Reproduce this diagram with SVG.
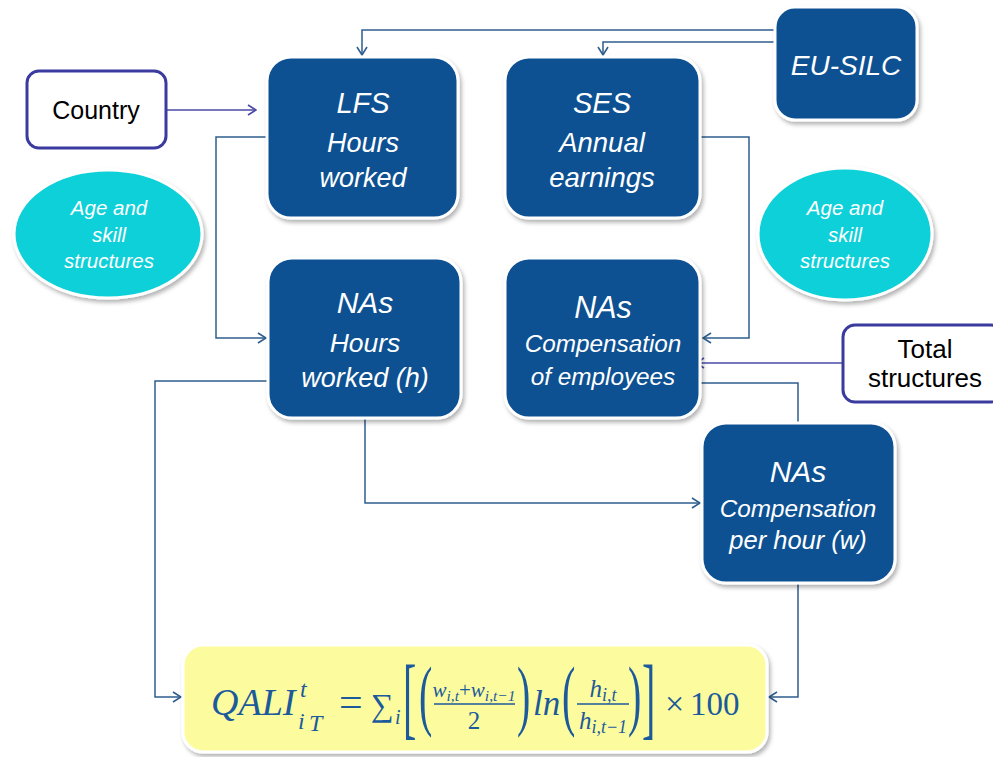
<svg xmlns="http://www.w3.org/2000/svg" width="993" height="757" viewBox="0 0 993 757">
<defs>
<filter id="sh" x="-10%" y="-10%" width="125%" height="130%">
<feDropShadow dx="2" dy="3" stdDeviation="2" flood-color="#000" flood-opacity="0.3"/>
</filter>
<marker id="ab" viewBox="0 0 10 12" refX="9" refY="6" markerWidth="10" markerHeight="12" markerUnits="userSpaceOnUse" orient="auto">
<path d="M1,1 L9,6 L1,11" fill="none" stroke="#2f5d8e" stroke-width="1.6"/>
</marker>
<marker id="ap" viewBox="0 0 10 12" refX="9" refY="6" markerWidth="10" markerHeight="12" markerUnits="userSpaceOnUse" orient="auto">
<path d="M1,1 L9,6 L1,11" fill="none" stroke="#4a4aa8" stroke-width="1.6"/>
</marker>
</defs>
<style>
.blue{fill:#0f5192;stroke:#fff;stroke-width:3;filter:url(#sh)}
.cyan{fill:#0fd0d8;stroke:#fff;stroke-width:3;filter:url(#sh)}
.wbox{fill:#fff;stroke:#3b3b9f;stroke-width:3}
.nt{fill:#fff;font-family:'Liberation Sans',Arial,sans-serif;font-style:italic;text-anchor:middle}
.bt{fill:#000;font-family:'Liberation Sans',Arial,sans-serif;text-anchor:middle}
.cb{fill:none;stroke:#2f5d8e;stroke-width:1.5}
.cp{fill:none;stroke:#4a4aa8;stroke-width:1.5}
.m{fill:#1c5a9c;font-family:'Liberation Serif','DejaVu Serif',serif}
.i{font-style:italic}
</style>
<rect width="993" height="757" fill="#fff"/>

<g id="connectors">
<path class="cb" d="M775,30 H362 V55" marker-end="url(#ab)"/>
<path class="cb" d="M775,42 H603 V55" marker-end="url(#ab)"/>
<path class="cb" d="M267,137 H216 V338 H266" marker-end="url(#ab)"/>
<path class="cb" d="M700,137 H749 V338 H703" marker-end="url(#ab)"/>
<path class="cp" d="M167,110 H256" marker-end="url(#ap)"/>
<path class="cp" d="M843,363 H696" marker-end="url(#ap)"/>
<path class="cb" d="M700,383 H798 V423"/>
<path class="cb" d="M365,418 V503 H700" marker-end="url(#ab)"/>
<path class="cb" d="M268,381 H155 V697 H181" marker-end="url(#ab)"/>
<path class="cb" d="M798,583 V697 H769" marker-end="url(#ab)"/>
</g>

<g id="country">
<rect class="wbox" x="27" y="71" width="139" height="77" rx="12"/>
<text class="bt" x="96" y="119" font-size="25">Country</text>
</g>

<g id="total">
<rect class="wbox" x="843" y="325" width="160" height="77" rx="12"/>
<text class="bt" x="925" y="358" font-size="26">Total</text>
<text class="bt" x="925" y="387" font-size="26">structures</text>
</g>

<g id="eusilc">
<rect class="blue" x="775" y="7" width="142" height="113" rx="20"/>
<text class="nt" x="846" y="75" font-size="28">EU-SILC</text>
</g>

<g id="lfs">
<rect class="blue" x="267" y="57" width="191" height="161" rx="24"/>
<text class="nt" x="363" y="113" font-size="29">LFS</text>
<text class="nt" x="363" y="152" font-size="27">Hours</text>
<text class="nt" x="363" y="187" font-size="27">worked</text>
</g>

<g id="ses">
<rect class="blue" x="505" y="57" width="195" height="161" rx="24"/>
<text class="nt" x="602" y="113" font-size="29">SES</text>
<text class="nt" x="602" y="152" font-size="27.5">Annual</text>
<text class="nt" x="602" y="187" font-size="27.5">earnings</text>
</g>

<g id="age-left">
<ellipse class="cyan" cx="108" cy="234" rx="94" ry="64"/>
<text class="nt" x="109" y="215" font-size="20.5">Age and</text>
<text class="nt" x="109" y="242" font-size="20.5">skill</text>
<text class="nt" x="109" y="268" font-size="20.5">structures</text>
</g>

<g id="age-right">
<ellipse class="cyan" cx="845" cy="234" rx="87" ry="66"/>
<text class="nt" x="845" y="215" font-size="20.5">Age and</text>
<text class="nt" x="845" y="242" font-size="20.5">skill</text>
<text class="nt" x="845" y="268" font-size="20.5">structures</text>
</g>

<g id="nas-hours">
<rect class="blue" x="268" y="258" width="193" height="160" rx="24"/>
<text class="nt" x="365" y="313" font-size="30">NAs</text>
<text class="nt" x="365" y="352" font-size="26.5">Hours</text>
<text class="nt" x="365" y="387" font-size="27">worked (h)</text>
</g>

<g id="nas-comp">
<rect class="blue" x="505" y="258" width="195" height="160" rx="24"/>
<text class="nt" x="603" y="318" font-size="30.5">NAs</text>
<text class="nt" x="603" y="352" font-size="24.3">Compensation</text>
<text class="nt" x="603" y="385" font-size="24.3">of employees</text>
</g>

<g id="nas-hour">
<rect class="blue" x="702" y="423" width="193" height="160" rx="24"/>
<text class="nt" x="798" y="482" font-size="30">NAs</text>
<text class="nt" x="798" y="517" font-size="24.3">Compensation</text>
<text class="nt" x="798" y="549" font-size="25.5">per hour (w)</text>
</g>

<g id="formula">
<rect x="183" y="645" width="584" height="107" rx="20" fill="#fcfc9e" stroke="#fff" stroke-width="3" filter="url(#sh)"/>
<text class="m i" x="211" y="715" font-size="38">QALI</text>
<text class="m i" x="300" y="697" font-size="24">t</text>
<text class="m i" x="298" y="729" font-size="24">i</text>
<text class="m i" x="309" y="731" font-size="24">T</text>
<text class="m" x="339" y="716" font-size="42">=</text>
<text class="m" x="371" y="716" font-size="32">∑</text>
<text class="m i" x="395" y="724" font-size="20">i</text>
<text class="m" transform="translate(403,728) scale(1,2.3)" font-size="40">[</text>
<text class="m" transform="translate(419,721) scale(1,1.95)" font-size="40">(</text>
<text class="m i" x="474" y="697" font-size="21" text-anchor="middle">w<tspan font-size="15.5" dy="4">i,t</tspan><tspan dy="-4" font-style="normal">+</tspan>w<tspan font-size="15.5" dy="4">i,t−1</tspan></text>
<line x1="434" y1="704" x2="515" y2="704" stroke="#1c5a9c" stroke-width="1.5"/>
<text class="m" x="474" y="729" font-size="25" text-anchor="middle">2</text>
<text class="m" transform="translate(517,721) scale(1,1.95)" font-size="40">)</text>
<text class="m i" x="533" y="715" font-size="35">ln</text>
<text class="m" transform="translate(562,721) scale(1,1.95)" font-size="40">(</text>
<text class="m i" x="603" y="697" font-size="25" text-anchor="middle">h<tspan font-size="18" dy="4">i,t</tspan></text>
<line x1="577" y1="704" x2="629" y2="704" stroke="#1c5a9c" stroke-width="1.5"/>
<text class="m i" x="603" y="729" font-size="25" text-anchor="middle">h<tspan font-size="18" dy="4">i,t−1</tspan></text>
<text class="m" transform="translate(628,721) scale(1,1.95)" font-size="40">)</text>
<text class="m" transform="translate(642,728) scale(1,2.3)" font-size="40">]</text>
<text class="m" x="665" y="715" font-size="34">×</text>
<text class="m" x="690" y="715" font-size="33">100</text>
</g>
</svg>
